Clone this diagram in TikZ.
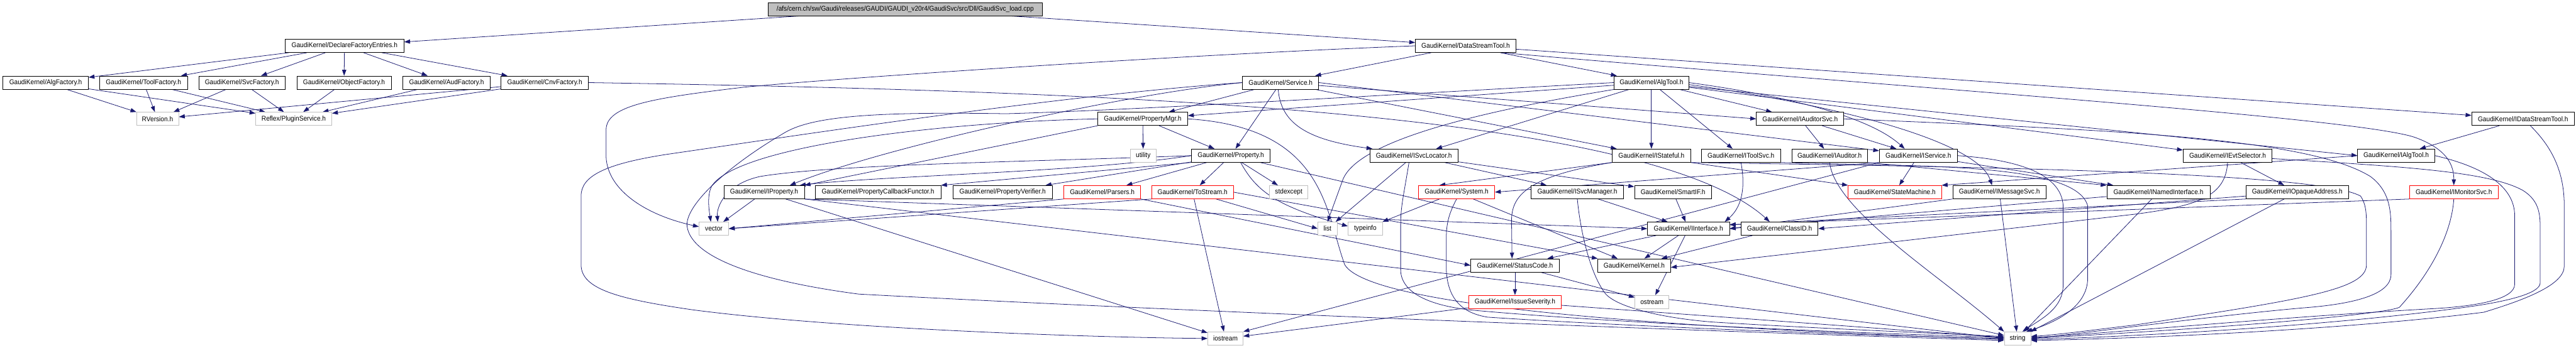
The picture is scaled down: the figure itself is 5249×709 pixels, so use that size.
\documentclass[tikz,border=0pt]{standalone}
\usepackage{fontspec}
\usepackage{graphicx}
\setmainfont{Liberation Sans}
\usetikzlibrary{arrows.meta,backgrounds}
\definecolor{edgeblue}{HTML}{191970}
\definecolor{boxgray}{HTML}{BFBFBF}
\definecolor{rootfill}{HTML}{BFBFBF}
\newcommand{\lbl}[1]{\scalebox{0.93}[1]{#1}}
\begin{document}
\begin{tikzpicture}[x=1pt,y=-1pt,
  nb/.style={draw=black, line width=1pt, fill=white, minimum height=27pt, inner sep=0pt, font=\fontsize{14}{16}\selectfont},
  nr/.style={nb, draw=red},
  ng/.style={nb, draw=boxgray},
  e/.style={draw=edgeblue, line width=1pt, -{Triangle[length=12pt,width=8.5pt]}},
]
\useasboundingbox (0,0) rectangle (5249,709);
% ---- nodes ----
\node[nb, minimum width=559pt, fill=rootfill] (root) at (1844.5,18.5) {\lbl{/afs/cern.ch/sw/Gaudi/releases/GAUDI/GAUDI\_v20r4/GaudiSvc/src/Dll/GaudiSvc\_load.cpp}};
\node[nb, minimum width=242pt] (dfe) at (702,93.5) {\lbl{GaudiKernel/DeclareFactoryEntries.h}};
\node[nb, minimum width=205pt] (dst) at (2986.5,93.5) {\lbl{GaudiKernel/DataStreamTool.h}};
\node[nb, minimum width=174pt] (algf) at (93,168.5) {\lbl{GaudiKernel/AlgFactory.h}};
\node[nb, minimum width=179pt] (toolf) at (292.5,168.5) {\lbl{GaudiKernel/ToolFactory.h}};
\node[nb, minimum width=176pt] (svcf) at (493,168.5) {\lbl{GaudiKernel/SvcFactory.h}};
\node[nb, minimum width=192pt] (objf) at (701,168.5) {\lbl{GaudiKernel/ObjectFactory.h}};
\node[nb, minimum width=178pt] (audf) at (910,168.5) {\lbl{GaudiKernel/AudFactory.h}};
\node[nb, minimum width=178pt] (cnvf) at (1110,168.5) {\lbl{GaudiKernel/CnvFactory.h}};
\node[nb, minimum width=155pt] (svc) at (2609.5,168.5) {\lbl{GaudiKernel/Service.h}};
\node[nb, minimum width=152pt] (algtool) at (3365,168.5) {\lbl{GaudiKernel/AlgTool.h}};
\node[ng, minimum width=86pt] (rver) at (321,242.5) {\lbl{RVersion.h}};
\node[ng, minimum width=155pt] (plug) at (598.5,242.5) {\lbl{Reflex/PluginService.h}};
\node[nb, minimum width=183pt] (pmgr) at (2328.5,242.5) {\lbl{GaudiKernel/PropertyMgr.h}};
\node[nb, minimum width=178pt] (iaudsvc) at (3668,242.5) {\lbl{GaudiKernel/IAuditorSvc.h}};
\node[nb, minimum width=209pt] (idst) at (5141,242.5) {\lbl{GaudiKernel/IDataStreamTool.h}};
\node[ng, minimum width=53pt] (utility) at (2329.5,317.5) {\lbl{utility}};
\node[nb, minimum width=160pt] (prop) at (2508,317.5) {\lbl{GaudiKernel/Property.h}};
\node[nb, minimum width=180pt] (isvcloc) at (2881,317.5) {\lbl{GaudiKernel/ISvcLocator.h}};
\node[nb, minimum width=160pt] (istateful) at (3365,317.5) {\lbl{GaudiKernel/IStateful.h}};
\node[nb, minimum width=161pt] (itoolsvc) at (3547.5,317.5) {\lbl{GaudiKernel/IToolSvc.h}};
\node[nb, minimum width=154pt] (iauditor) at (3728,317.5) {\lbl{GaudiKernel/IAuditor.h}};
\node[nb, minimum width=159pt] (iservice) at (3909,317.5) {\lbl{GaudiKernel/IService.h}};
\node[nb, minimum width=181pt] (ievtsel) at (4539,317.5) {\lbl{GaudiKernel/IEvtSelector.h}};
\node[nb, minimum width=157pt] (ialgtool) at (4882.5,317.5) {\lbl{GaudiKernel/IAlgTool.h}};
\node[nb, minimum width=164pt] (iprop) at (1557,392) {\lbl{GaudiKernel/IProperty.h}};
\node[nb, minimum width=256pt] (pcbf) at (1789,392) {\lbl{GaudiKernel/PropertyCallbackFunctor.h}};
\node[nb, minimum width=203pt] (pver) at (2043,392) {\lbl{GaudiKernel/PropertyVerifier.h}};
\node[nr, minimum width=156pt] (parsers) at (2246,392) {\lbl{GaudiKernel/Parsers.h}};
\node[nr, minimum width=166pt] (tostream) at (2430,392) {\lbl{GaudiKernel/ToStream.h}};
\node[ng, minimum width=78pt] (stdexcept) at (2626,392) {\lbl{stdexcept}};
\node[nr, minimum width=155pt] (system) at (2968,392) {\lbl{GaudiKernel/System.h}};
\node[nb, minimum width=188pt] (isvcmgr) at (3214,392) {\lbl{GaudiKernel/ISvcManager.h}};
\node[nb, minimum width=157pt] (smartif) at (3409,392) {\lbl{GaudiKernel/SmartIF.h}};
\node[nr, minimum width=190pt] (statemach) at (3861,392) {\lbl{GaudiKernel/StateMachine.h}};
\node[nb, minimum width=190pt] (imsgsvc) at (4074,392) {\lbl{GaudiKernel/IMessageSvc.h}};
\node[nb, minimum width=210pt] (inamed) at (4398,392) {\lbl{GaudiKernel/INamedInterface.h}};
\node[nb, minimum width=209pt] (iopaque) at (4681,392) {\lbl{GaudiKernel/IOpaqueAddress.h}};
\node[nr, minimum width=180pt] (imonitor) at (5000,392) {\lbl{GaudiKernel/IMonitorSvc.h}};
\node[ng, minimum width=60pt] (vector) at (1454.5,466.5) {\lbl{vector}};
\node[ng, minimum width=39pt] (list) at (2705,466.5) {\lbl{list}};
\node[ng, minimum width=70pt] (typeinfo) at (2782,466.5) {\lbl{typeinfo}};
\node[nb, minimum width=167pt] (iinterface) at (3440.5,466.5) {\lbl{GaudiKernel/IInterface.h}};
\node[nb, minimum width=157pt] (classid) at (3626,466.5) {\lbl{GaudiKernel/ClassID.h}};
\node[nb, minimum width=180pt] (statuscode) at (3087,541.5) {\lbl{GaudiKernel/StatusCode.h}};
\node[nb, minimum width=148pt] (kernel) at (3330,541.5) {\lbl{GaudiKernel/Kernel.h}};
\node[nr, minimum width=188pt] (issue) at (3087,616) {\lbl{GaudiKernel/IssueSeverity.h}};
\node[ng, minimum width=69pt] (ostream) at (3366,616) {\lbl{ostream}};
\node[ng, minimum width=72pt] (iostream) at (2497,690.5) {\lbl{iostream}};
\node[ng, minimum width=54pt] (string) at (4111,690.5) {\lbl{string}};
% ---- edges ----
\begin{scope}[on background layer]
\draw[e] (root) -- (dfe);
\draw[e] (root) -- (dst);
\draw[e] (dfe) -- (algf);
\draw[e] (dfe) -- (toolf);
\draw[e] (dfe) -- (svcf);
\draw[e] (dfe) -- (objf);
\draw[e] (dfe) -- (audf);
\draw[e] (dfe) -- (cnvf);
\draw[e] (algf) -- (rver);
\draw[e] (algf) -- (plug);
\draw[e] (toolf) -- (rver);
\draw[e] (toolf) -- (plug);
\draw[e] (svcf) -- (rver);
\draw[e] (svcf) -- (plug);
\draw[e] (objf) -- (plug);
\draw[e] (audf) -- (plug);
\draw[e] (cnvf) -- (rver);
\draw[e] (cnvf) -- (plug);
\draw[e] (cnvf.east) .. controls (2200,185) and (3350,220) .. ([xshift=-20pt]classid.north);
% DataStreamTool
\draw[e] (dst) -- (svc);
\draw[e] (dst) -- (algtool);
\draw[e] (dst) -- (idst);
\draw[e] (dst.west) .. controls (2400,112) and (1700,160) .. (1515,178) .. controls (1330,200) and (1235,215) .. (1235,265) -- (1235,320) .. controls (1238,390) and (1320,440) .. ([yshift=4pt]vector.west);
\draw[e] ([xshift=-30pt]dst.south east) .. controls (3900,180) and (4800,240) .. (4920,280) .. controls (4990,305) and (5000,340) .. (imonitor.north);
% Service
\draw[e] (svc) -- (pmgr);
\draw[e] (svc) -- (prop);
\draw[e] (svc) -- (istateful);
\draw[e] (svc.east) -- ([yshift=10pt]iservice.west);
\draw[e] (svc) -- (iaudsvc.west);
\draw[e] (svc.west) .. controls (2300,190) and (1800,300) .. ([xshift=-30pt]iprop.north east);
\draw[e] ([xshift=-5pt]svc.south) .. controls (2610,250) and (2660,285) .. ([xshift=6pt]isvcloc.north west);
\draw[e] (svc.west) .. controls (2150,195) and (1600,280) .. (1358,315) .. controls (1230,335) and (1184,360) .. (1184,400) -- (1184,540) .. controls (1184,590) and (1260,610) .. (1411,632) .. controls (1700,670) and (2200,688) .. (iostream.west);
% AlgTool
\draw[e] (algtool) -- (pmgr);
\draw[e] (algtool) -- (isvcloc);
\draw[e] (algtool) -- (istateful);
\draw[e] (algtool) -- (itoolsvc);
\draw[e] (algtool) -- (iaudsvc);
\draw[e] (algtool) -- (ialgtool.west);
\draw[e] (algtool) -- (ievtsel);
\draw[e] (algtool.east) .. controls (3600,190) and (3800,230) .. ([xshift=-28pt]iservice.north);
\draw[e] ([yshift=-4pt]algtool.east) .. controls (3750,215) and (4030,290) .. ([xshift=-15pt]imsgsvc.north);
\draw[e] (algtool.south west) .. controls (3000,230) and (2760,290) .. (2735,370) -- (list.north);
\draw[e] (algtool.west) .. controls (2800,195) and (2300,225) .. (2050,232) .. controls (1800,228) and (1660,235) .. (1600,270) .. controls (1480,340) and (1395,420) .. (1400,462) .. controls (1410,530) and (1560,575) .. (1750,600) .. controls (2500,640) and (3600,680) .. ([yshift=-4pt]string.west);
% PropertyMgr
\draw[e] (pmgr) -- (utility);
\draw[e] (pmgr) -- (prop);
\draw[e] (pmgr.south west) -- (iprop.north east);
\draw[e] (pmgr.west) .. controls (1900,250) and (1500,300) .. (1450,380) .. controls (1440,400) and (1445,430) .. ([xshift=-6pt]vector.north);
\draw[e] (pmgr.east) .. controls (2700,260) and (2700,430) .. (2740,540) .. controls (2800,640) and (3600,675) .. ([yshift=-2pt]string.west);
% Property
\draw[e] (prop.south west) -- (pcbf.north east);
\draw[e] (prop) -- (pver);
\draw[e] (prop) -- (parsers);
\draw[e] (prop) -- (tostream);
\draw[e] (prop) -- (stdexcept);
\draw[e] (prop) -- (string);
\draw[e] (prop.west) .. controls (2200,352) and (1800,358) .. ([xshift=-10pt]iprop.north east);
\draw[e] (prop.west) .. controls (2100,330) and (1700,335) .. (1549,360) .. controls (1480,375) and (1460,420) .. ([xshift=8pt]vector.north);
\draw[e] ([xshift=20pt]prop.south) .. controls (2560,390) and (2600,420) .. ([yshift=5pt]typeinfo.west);
% IProperty
\draw[e] (iprop) -- (vector);
\draw[e] (iprop.south east) -- (iinterface.west);
\draw[e] (iprop.south east) -- (string.west);
\draw[e] (iprop) -- (iostream);
% Parsers / ToStream
\draw[e] (parsers.south west) -- (vector.east);
\draw[e] (parsers.south east) -- (statuscode.west);
\draw[e] (tostream.south west) -- (vector.east);
\draw[e] (tostream) -- (iostream);
\draw[e] (tostream) -- (list.west);
\draw[e] (tostream.east) -- (kernel.north west);
% System
\draw[e] (system) -- (typeinfo);
\draw[e] (system) -- (kernel);
\draw[e] (system.south) .. controls (2950,440) and (2947,460) .. (2947,490) -- (2947,550) .. controls (2950,620) and (2990,640) .. (3031,647) .. controls (3300,665) and (3800,685) .. (string.west);
% ISvcLocator
\draw[e] (isvcloc) -- (list);
\draw[e] (isvcloc) -- (isvcmgr);
\draw[e] (isvcloc) -- (smartif);
\draw[e] ([xshift=-10pt]isvcloc.south) .. controls (2860,400) and (2854,420) .. (2854,460) -- (2854,550) .. controls (2854,600) and (2920,625) .. (3003,633) .. controls (3300,660) and (3800,680) .. ([yshift=2pt]string.west);
% ISvcManager / SmartIF
\draw[e] (isvcmgr) -- (iinterface);
\draw[e] (isvcmgr.south) .. controls (3220,470) and (3240,560) .. (3272,600) .. controls (3300,630) and (3400,650) .. (3490,657) .. controls (3700,670) and (3950,680) .. ([yshift=4pt]string.west);
\draw[e] (smartif) -- (iinterface);
% IStateful
\draw[e] (istateful.south east) -- (statemach.north west);
\draw[e] (istateful.south west) -- ([xshift=-35pt]system.north);
\draw[e] (istateful.south west) .. controls (3110,360) and (3080,400) .. (3080,450) -- ([xshift=-6pt]statuscode.north);
\draw[e] (istateful.south east) .. controls (4000,340) and (4720,350) .. (4810,400) .. controls (4820,415) and (4822,430) .. (4822,460) -- (4822,540) .. controls (4822,590) and (4700,610) .. (4350,663) .. controls (4250,675) and (4200,682) .. ([yshift=4pt]string.east);
% IToolSvc
\draw[e] (itoolsvc.south) .. controls (3560,400) and (3540,430) .. ([xshift=-10pt]iinterface.north east);
\draw[e] (itoolsvc.south east) .. controls (3900,340) and (4230,330) .. (4254,420) -- (4254,567) .. controls (4254,630) and (4180,660) .. ([xshift=18pt]string.north);
% IAuditor / IService / IAuditorSvc
\draw[e] (iauditor.south east) -- (inamed.north west);
\draw[e] (iauditor.south) .. controls (3740,430) and (3950,560) .. (string.north west);
\draw[e] (iservice) -- (statemach);
\draw[e] (iservice) -- (inamed);
\draw[e] (iservice.south west) -- (system.east);
\draw[e] (iservice.south west) -- (iostream.north east);
\draw[e] (iservice.east) .. controls (4100,325) and (4200,350) .. (4204,420) -- (4204,580) .. controls (4204,630) and (4160,650) .. ([xshift=10pt]string.north);
\draw[e] (iaudsvc) -- (iauditor);
\draw[e] (iaudsvc) -- (iservice);
\draw[e] (iaudsvc.east) .. controls (4300,265) and (4700,280) .. (4830,360) .. controls (4870,390) and (4872,430) .. (4872,470) -- (4872,560) .. controls (4872,600) and (4800,620) .. (4694,628) .. controls (4500,645) and (4250,680) .. (string.east);
% right-hand interfaces
\draw[e] (idst) -- (ialgtool);
\draw[e] ([xshift=15pt]idst.south) .. controls (5200,300) and (5225,350) .. (5225,420) -- (5225,543) .. controls (5225,580) and (5150,610) .. (5061,637) .. controls (4800,670) and (4400,690) .. ([yshift=-4pt]string.east);
\draw[e] (ievtsel) -- (iopaque);
\draw[e] (ievtsel.south) .. controls (4535,400) and (4480,420) .. (4350,437) -- ([yshift=-4pt]kernel.east);
\draw[e] ([yshift=-6pt]ievtsel.east) .. controls (4900,340) and (5070,350) .. (5140,388) .. controls (5176,410) and (5176,440) .. (5176,470) -- (5176,577) .. controls (5176,600) and (5100,615) .. (5050,623) .. controls (4800,660) and (4400,685) .. ([yshift=-2pt]string.east);
\draw[e] (ialgtool.west) -- (statemach.north east);
\draw[e] (ialgtool.east) .. controls (5060,340) and (5124,380) .. (5124,440) -- (5124,580) .. controls (5124,610) and (5050,625) .. (4952,630) .. controls (4600,650) and (4300,680) .. ([yshift=2pt]string.east);
\draw[e] (imsgsvc.south west) -- (iinterface.east);
\draw[e] (imsgsvc) -- (string);
\draw[e] (inamed) -- (iinterface.east);
\draw[e] (inamed) -- (string);
\draw[e] (iopaque) -- (classid.east);
\draw[e] (iopaque.south west) -- ([yshift=8pt]iinterface.east);
\draw[e] (iopaque) -- (string);
\draw[e] (imonitor.south west) -- ([yshift=8pt]iinterface.east);
\draw[e] (imonitor.south) .. controls (4995,480) and (4950,560) .. (4889,627) .. controls (4860,640) and (4600,665) .. (string.east);
% lower core
\draw[e] (iinterface) -- (statuscode);
\draw[e] (iinterface) -- (kernel);
\draw[e] (iinterface) -- (ostream);
\draw[e] (classid) -- (kernel);
\draw[e] (statuscode) -- (issue);
\draw[e] (statuscode) -- (ostream);
\draw[e] (issue) -- (iostream);
\draw[e] (issue) -- (string);
\end{scope}
\end{tikzpicture}
\end{document}
